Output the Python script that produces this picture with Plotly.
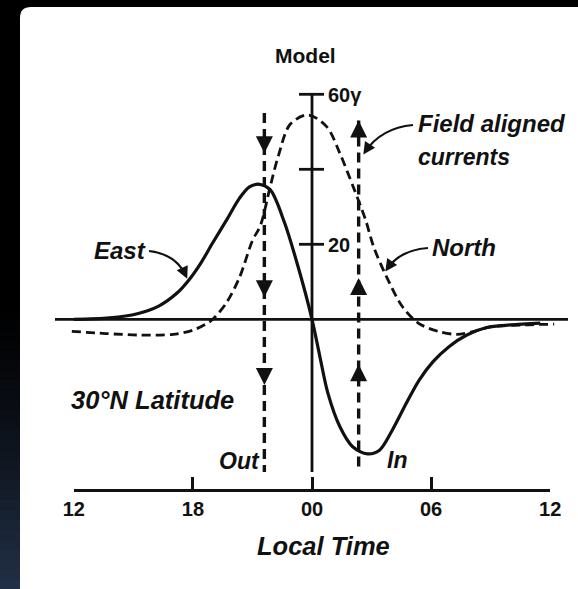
import plotly.graph_objects as go

# ---------------- data ----------------
east_t = [-12, -10.2, -8.8, -7.7, -6.8, -6.2, -5.6, -5.0, -4.3, -3.65, -3.15, -2.65,
          -2.1, -1.4, -0.7, 0.0, 0.4, 0.8, 1.4, 2.05, 2.8, 3.4, 4.05, 4.75, 5.4,
          6.1, 6.9, 7.8, 8.8, 10.0, 11.5]
east_v = [0, 0.4, 1.5, 3.6, 7.0, 10.5, 15, 20.4, 26.5, 32.3, 35.3, 36,
          34.5, 26.0, 14.0, 0, -10, -19.7, -28.6, -34, -35.9, -34.9, -29.5, -22.4, -16.2,
          -11.3, -7.3, -4.2, -2.2, -1.5, -1.0]

north_t = [-12.1, -10.4, -8.7, -7.0, -6.0, -5.3, -5.0, -4.3, -3.65, -3.0, -2.6, -2.1,
           -1.7, -1.1, -0.2, 0.75, 1.4, 2.1, 2.7, 3.1, 3.75, 4.55, 5.35, 6.4, 7.3,
           8.1, 9.0, 10.6, 12.2]
north_v = [-3.2, -3.8, -4.2, -4.0, -2.9, -1.1, 0, 4.5, 11.2, 21.0, 25.0, 35.5,
           43.5, 52.0, 54.5, 51.3, 44.3, 35.0, 26.5, 19.4, 11.4, 3.4, -1.0, -3.3, -4.0,
           -3.3, -2.0, -1.5, -1.3]

# field aligned currents: local time, vertical extent, arrowhead tips, direction
fac_t = [-2.4, 2.35]
fac_top = [55.0, 53.0]
fac_bottom = [-40.7, -40.7]
fac_heads = [[44.3, 5.9, -17.5], [53.0, 11.0, -12.0]]
fac_symbol = ["arrow-down", "arrow-up"]

tick_vals = [-12, -6, 0, 6, 12]
tick_text = ["12", "18", "00", "06", "12"]
y_ticks = [20, 40, 60]
y_tick_text = {20: "20", 60: "60\u03b3"}

# ---------------- geometry helpers (pixel -> data for decorations) ----------------
W, H = 578, 589
X0, SX = 312.0, 19.85     # pixel of 00 LT, pixels per hour
Y0, SY = 319.3, 3.75      # pixel of zero, pixels per gamma


def X(px):
    return (px - X0) / SX


def Y(py):
    return (Y0 - py) / SY


FONT = "Liberation Sans, Arial, sans-serif"
INK = "#111111"

fig = go.Figure()

# North (dashed)
fig.add_trace(go.Scatter(x=north_t, y=north_v, mode="lines",
                         line=dict(color=INK, width=2.8, dash="9px,5px", shape="spline", smoothing=0.9),
                         hoverinfo="skip", showlegend=False))
# East (solid)
fig.add_trace(go.Scatter(x=east_t, y=east_v, mode="lines",
                         line=dict(color=INK, width=3.2, shape="spline", smoothing=0.9),
                         hoverinfo="skip", showlegend=False))

# field aligned current arrows
for t, top, bot, heads, sym in zip(fac_t, fac_top, fac_bottom, fac_heads, fac_symbol):
    fig.add_trace(go.Scatter(x=[t, t], y=[top, bot], mode="lines",
                             line=dict(color=INK, width=3.4, dash="10px,6px"),
                             hoverinfo="skip", showlegend=False))
    fig.add_trace(go.Scatter(x=[t] * len(heads), y=heads, mode="markers",
                             marker=dict(symbol=sym, size=17, color=INK, line=dict(width=0)),
                             hoverinfo="skip", showlegend=False))

# time axis carrier trace
fig.add_trace(go.Scatter(x=[-12, 12], y=[None, None], xaxis="x2", yaxis="y",
                         mode="lines", showlegend=False, hoverinfo="skip"))

shapes = []


def P(px, py):
    return f"{px / W:.5f},{1 - py / H:.5f}"


# faint blue glow in the lower left of the dark frame (smooth, non-overlapping bands)
nb = 29
g0, g1 = 300, 589
for i in range(nb):
    ya = g0 + (g1 - g0) * i / nb
    yb = g0 + (g1 - g0) * (i + 1) / nb
    a = 0.42 * ((i + 0.5) / nb) ** 1.3
    shapes.append(dict(type="rect", xref="paper", yref="paper", x0=0, x1=22 / W,
                       y0=1 - yb / H, y1=1 - ya / H, fillcolor=f"rgba(80,115,170,{a:.3f})",
                       line=dict(width=0), layer="below"))

# white card with rounded corner
r = 11
cx0, cy0 = 20, 7
card = (f"M {P(cx0 + r, cy0)} L {P(600, cy0)} L {P(600, 600)} L {P(cx0, 600)} "
        f"L {P(cx0, cy0 + r)} Q {P(cx0, cy0)} {P(cx0 + r, cy0)} Z")
shapes.append(dict(type="path", path=card, xref="paper", yref="paper",
                   fillcolor="white", line=dict(width=0), layer="below"))

# zero line
shapes.append(dict(type="line", x0=X(55), x1=X(568), y0=0, y1=0, xref="x", yref="y",
                   line=dict(color=INK, width=2.8)))
# vertical axis
shapes.append(dict(type="line", x0=0, x1=0, y0=60, y1=Y(472), xref="x", yref="y",
                   line=dict(color=INK, width=2.8)))
for v in y_ticks:
    shapes.append(dict(type="line", x0=X(299), x1=X(324), y0=v, y1=v, xref="x", yref="y",
                       line=dict(color=INK, width=2.8)))


def qpath(p0, c, p1):
    return (f"M {X(p0[0])},{Y(p0[1])} Q {X(c[0])},{Y(c[1])} {X(p1[0])},{Y(p1[1])}")


pointers = [
    ((149, 251), (176, 254), (186, 276)),   # East
    ((428, 248), (400, 250), (387, 269)),   # North
    ((413, 125), (381, 128), (365, 152)),   # Field aligned currents
]
for p0, c, p1 in pointers:
    shapes.append(dict(type="path", path=qpath(p0, c, p1), xref="x", yref="y",
                       line=dict(color=INK, width=2.2)))

annotations = []
for (p0, c, p1) in pointers:
    dx, dy = p1[0] - c[0], p1[1] - c[1]
    n = (dx * dx + dy * dy) ** 0.5
    annotations.append(dict(x=X(p1[0] + dx / n * 3), y=Y(p1[1] + dy / n * 3), xref="x", yref="y",
                            ax=-dx / n * 8, ay=-dy / n * 8, text="", showarrow=True,
                            arrowhead=2, arrowsize=1.1, arrowwidth=2.2, arrowcolor=INK))


def label(text, px, py, size, italic=True, bold=True, xanchor="center"):
    annotations.append(dict(x=X(px), y=Y(py), xref="x", yref="y", text=text, showarrow=False,
                            xanchor=xanchor, yanchor="middle",
                            font=dict(family=FONT, size=size, color=INK,
                                      style="italic" if italic else "normal",
                                      weight="bold" if bold else "normal")))


label("Model", 305, 55, 21, italic=False)
for v, txt in y_tick_text.items():
    label(txt, 326, Y0 - SY * v + 1, 20, italic=False, xanchor="left")
label("Field aligned", 416, 123, 24, xanchor="left")
label("currents", 416, 157, 23, xanchor="left")
label("North", 430, 247, 24, xanchor="left")
label("East", 92, 250, 24, xanchor="left")
label("30°N Latitude", 69, 400, 25.5, xanchor="left")
label("Out", 217, 461, 23, xanchor="left")
label("In", 385, 460, 23, xanchor="left")
label("Local Time", 323, 546, 25.5)

fig.update_layout(
    width=W, height=H,
    margin=dict(l=0, r=0, t=0, b=0, autoexpand=False),
    paper_bgcolor="black", plot_bgcolor="rgba(0,0,0,0)",
    showlegend=False,
    xaxis=dict(range=[X(0), X(W)], visible=False, domain=[0, 1], automargin=False),
    yaxis=dict(range=[Y(H), Y(0)], visible=False, domain=[0, 1], automargin=False),
    xaxis2=dict(domain=[(X0 - 12 * SX) / W, (X0 + 12 * SX) / W], range=[-12, 12],
                anchor="free", position=1 - 490 / H, automargin=False,
                showline=True, linecolor=INK, linewidth=2.8,
                ticks="inside", ticklen=12, tickwidth=2.8, tickcolor=INK,
                tickvals=tick_vals, ticktext=tick_text, showgrid=False, zeroline=False,
                tickfont=dict(family=FONT, size=20, color=INK, weight="bold")),
    shapes=shapes,
    annotations=annotations,
)

fig.write_html("out.html")
